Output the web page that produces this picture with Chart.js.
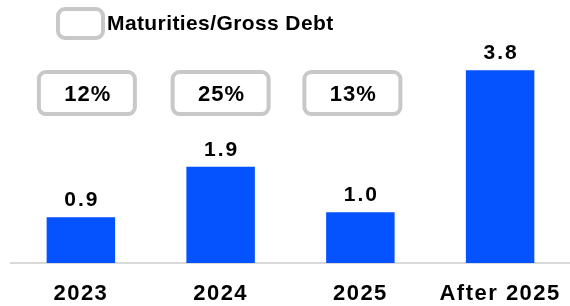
<!DOCTYPE html>
<html>
<head>
<meta charset="utf-8">
<script src="https://cdn.jsdelivr.net/npm/chart.js@4"></script>
<style>
  body { margin: 0; background: #fff; }
  #wrap { width: 570px; height: 306px; position: relative; }
</style>
</head>
<body>
<div id="wrap"><canvas id="myChart"></canvas></div>
<script>
// Data
const categories = ['2023', '2024', '2025', 'After 2025'];
const maturities = [0.9, 1.9, 1.0, 3.8];
const grossDebtShare = [12, 25, 13];
const legendLabel = 'Maturities/Gross Debt';

const FONT = '"Liberation Sans", Arial, sans-serif';
const BOX_GRAY = '#c8c8c8';
// the % boxes are not quite centred over the bars in the original
const boxShift = [6, 0, -8];

function roundBox(ctx, x, y, w, h, r) {
    ctx.beginPath();
    ctx.roundRect(x, y, w, h, r);
    ctx.fillStyle = '#fff';
    ctx.fill();
    ctx.lineWidth = 4;
    ctx.strokeStyle = BOX_GRAY;
    ctx.stroke();
}

// Labels above bars, percentage boxes and the legend
const extras = {
    id: 'extras',
    beforeDraw(chart) {
        chart.ctx.letterSpacing = '1.5px';
    },
    afterDatasetsDraw(chart) {
        const ctx = chart.ctx;
        const meta = chart.getDatasetMeta(0);
        const y = chart.scales.y;
        ctx.save();
        ctx.fillStyle = '#000';
        ctx.textAlign = 'center';

        // value labels
        ctx.font = 'bold 21px ' + FONT;
        ctx.letterSpacing = '2px';
        ctx.textBaseline = 'alphabetic';
        meta.data.forEach((bar, i) => {
            ctx.fillText(maturities[i].toFixed(1), bar.x + 1, bar.y - 11);
        });

        // percentage boxes
        ctx.font = 'bold 22px ' + FONT;
        ctx.letterSpacing = '1px';
        ctx.textBaseline = 'middle';
        const boxY = y.getPixelForValue(3.35);
        grossDebtShare.forEach((p, i) => {
            const cx = meta.data[i].x + boxShift[i];
            roundBox(ctx, cx - 48, boxY - 21, 96, 42, 7);
            ctx.fillStyle = '#000';
            ctx.fillText(p + '%', cx + 1, boxY + 2);
        });

        // legend
        ctx.font = 'bold 21px ' + FONT;
        roundBox(ctx, 58, 9, 45, 29, 7);
        ctx.fillStyle = '#000';
        ctx.textAlign = 'left';
        ctx.letterSpacing = '0.4px';
        ctx.fillText(legendLabel, 107, 24);
        ctx.restore();
    }
};

new Chart(document.getElementById('myChart'), {
    type: 'bar',
    data: {
        labels: categories,
        datasets: [{
            label: legendLabel,
            data: maturities,
            backgroundColor: '#0552ff',
            barPercentage: 0.49,
            categoryPercentage: 1
        }]
    },
    options: {
        responsive: true,
        maintainAspectRatio: false,
        animation: false,
        // tall tick line height pushes the year labels down; bottom padding gives it back
        layout: { padding: { left: 11, right: -3, top: 50, bottom: -19 } },
        plugins: {
            legend: { display: false },
            tooltip: { enabled: false }
        },
        scales: {
            x: {
                grid: { display: false, drawTicks: false },
                border: { color: '#d9d9d9', width: 2 },
                ticks: {
                    color: '#000',
                    padding: 0,
                    maxRotation: 0,
                    minRotation: 0,
                    autoSkip: false,
                    font: { family: FONT, size: 22, weight: 'bold', lineHeight: '62px' }
                }
            },
            y: {
                display: false,
                min: 0,
                max: 4.2
            }
        }
    },
    plugins: [extras]
});
</script>
</body>
</html>
